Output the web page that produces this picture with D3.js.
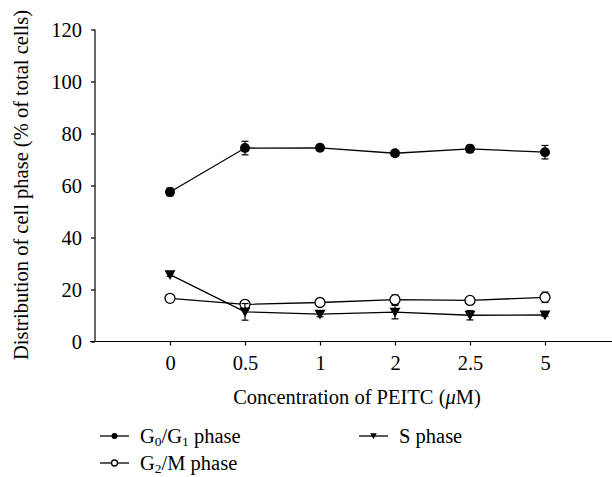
<!DOCTYPE html>
<html>
<head>
<meta charset="utf-8">
<script src="https://cdn.jsdelivr.net/npm/d3@7"></script>
<style>
  body { margin: 0; background: #fff; }
  svg { display: block; }
</style>
</head>
<body>
<svg id="chart" width="612" height="477"></svg>
<script>
"use strict";

var concLabels = ["0", "0.5", "1", "2", "2.5", "5"],
    g0g1Values = [57.5, 74.4, 74.5, 72.4, 74.1, 72.8],
    g0g1Errors = [1.5, 2.6, 1.0, 1.0, 1.4, 2.6],
    g2mValues = [16.6, 14.3, 15.0, 16.1, 15.8, 17.0],
    g2mErrors = [0.8, 1.5, 0.6, 1.8, 0.8, 2.0],
    sValues = [25.7, 11.4, 10.5, 11.3, 10.1, 10.2],
    sErrors = [0.6, 3.2, 1.0, 2.6, 1.8, 0.5],
    yTicks = [0, 20, 40, 60, 80, 100, 120],

    series = [
        { name: "G0/G1", values: g0g1Values, errors: g0g1Errors, marker: "dot" },
        { name: "G2/M", values: g2mValues, errors: g2mErrors, marker: "ring" },
        { name: "S", values: sValues, errors: sErrors, marker: "tri" }
    ];

var svg = d3.select("#chart"),
    axisLeftX = 95,
    axisBottomY = 341.5,
    topY = 29.5,
    serif = "'Liberation Serif', 'Times New Roman', serif",
    fontSize = "20.5px";

var x = d3.scalePoint()
        .domain(concLabels)
        .range([axisLeftX, 620])
        .padding(1),
    y = d3.scaleLinear()
        .domain([0, 120])
        .range([axisBottomY, topY]);

// axes
var yAxis = svg.append("g")
    .attr("transform", "translate(" + axisLeftX + ",0)")
    .call(d3.axisLeft(y).tickValues(yTicks).tickSize(4).tickPadding(9));

var xAxis = svg.append("g")
    .attr("transform", "translate(0," + axisBottomY + ")")
    .call(d3.axisBottom(x).tickSize(4).tickPadding(10));

[yAxis, xAxis].forEach(function(ax) {
    ax.select(".domain").remove();
    ax.selectAll("line").attr("stroke", "#000").attr("stroke-width", 1.2);
    ax.selectAll("text")
        .attr("fill", "#000")
        .style("font-family", serif)
        .style("font-size", fontSize);
});

svg.append("line")
    .attr("x1", axisLeftX).attr("x2", axisLeftX)
    .attr("y1", topY).attr("y2", axisBottomY)
    .attr("stroke", "#000").attr("stroke-width", 1.2);
svg.append("line")
    .attr("x1", 90).attr("x2", 612)
    .attr("y1", axisBottomY).attr("y2", axisBottomY)
    .attr("stroke", "#000").attr("stroke-width", 1.2);

// axis titles
svg.append("text")
    .attr("transform", "translate(28,185) rotate(-90)")
    .attr("text-anchor", "middle")
    .style("font-family", serif)
    .style("font-size", fontSize)
    .text("Distribution of cell phase (% of total cells)");

var xTitle = svg.append("text")
    .attr("x", 357)
    .attr("y", 404)
    .attr("text-anchor", "middle")
    .style("font-family", serif)
    .style("font-size", fontSize);
xTitle.append("tspan").text("Concentration of PEITC (");
xTitle.append("tspan").style("font-style", "italic").text("\u03bc");
xTitle.append("tspan").text("M)");

// markers
var drawMarker = function(sel, type, cx, cy, scale) {
    scale = scale || 1;
    if (type === "dot") {
        sel.append("circle")
            .attr("cx", cx).attr("cy", cy).attr("r", 5 * scale)
            .attr("fill", "#000");
    } else if (type === "ring") {
        sel.append("circle")
            .attr("cx", cx).attr("cy", cy).attr("r", 5 * scale)
            .attr("fill", "#fff").attr("stroke", "#000").attr("stroke-width", 1.3);
    } else {
        var s = 5.5 * scale;
        sel.append("path")
            .attr("d", "M" + (cx - s) + "," + (cy - s * 0.8) +
                  "L" + (cx + s) + "," + (cy - s * 0.8) +
                  "L" + cx + "," + (cy + s * 0.95) + "Z")
            .attr("fill", "#000");
    }
};

var line = d3.line()
    .x(function(d) { return x(d.label); })
    .y(function(d) { return y(d.value); });

series.forEach(function(s) {
    var pts = concLabels.map(function(label, i) {
        return { label: label, value: s.values[i], err: s.errors[i] };
    });
    var g = svg.append("g");

    g.append("path")
        .datum(pts)
        .attr("d", line)
        .attr("fill", "none")
        .attr("stroke", "#000")
        .attr("stroke-width", 1.3);

    pts.forEach(function(d) {
        var cx = x(d.label),
            y0 = y(d.value - d.err),
            y1 = y(d.value + d.err);
        g.append("line")
            .attr("x1", cx).attr("x2", cx).attr("y1", y0).attr("y2", y1)
            .attr("stroke", "#000").attr("stroke-width", 1.2);
        [y0, y1].forEach(function(yy) {
            g.append("line")
                .attr("x1", cx - 3.5).attr("x2", cx + 3.5)
                .attr("y1", yy).attr("y2", yy)
                .attr("stroke", "#000").attr("stroke-width", 1.2);
        });
    });

    pts.forEach(function(d) {
        drawMarker(g, s.marker, x(d.label), y(d.value));
    });
});

// legend
var legendItems = [
    { marker: "dot", x: 100, y: 436, main: "G", sub1: "0", mid: "/G", sub2: "1", tail: " phase" },
    { marker: "tri", x: 359, y: 436, main: "S phase" },
    { marker: "ring", x: 100, y: 463, main: "G", sub1: "2", mid: "/M phase" }
];

legendItems.forEach(function(item) {
    var g = svg.append("g");
    g.append("line")
        .attr("x1", item.x).attr("x2", item.x + 29)
        .attr("y1", item.y).attr("y2", item.y)
        .attr("stroke", "#000").attr("stroke-width", 1.3);
    drawMarker(g, item.marker, item.x + 14.5, item.y, 0.6);

    var t = g.append("text")
        .attr("x", item.x + 40)
        .attr("y", item.y + 6.5)
        .style("font-family", serif)
        .style("font-size", fontSize);
    t.append("tspan").text(item.main);
    if (item.sub1) {
        t.append("tspan").style("font-size", "13.5px").attr("dy", 3).text(item.sub1);
        t.append("tspan").attr("dy", -3).text(item.mid);
    }
    if (item.sub2) {
        t.append("tspan").style("font-size", "13.5px").attr("dy", 3).text(item.sub2);
        t.append("tspan").attr("dy", -3).text(item.tail);
    }
});
</script>
</body>
</html>
